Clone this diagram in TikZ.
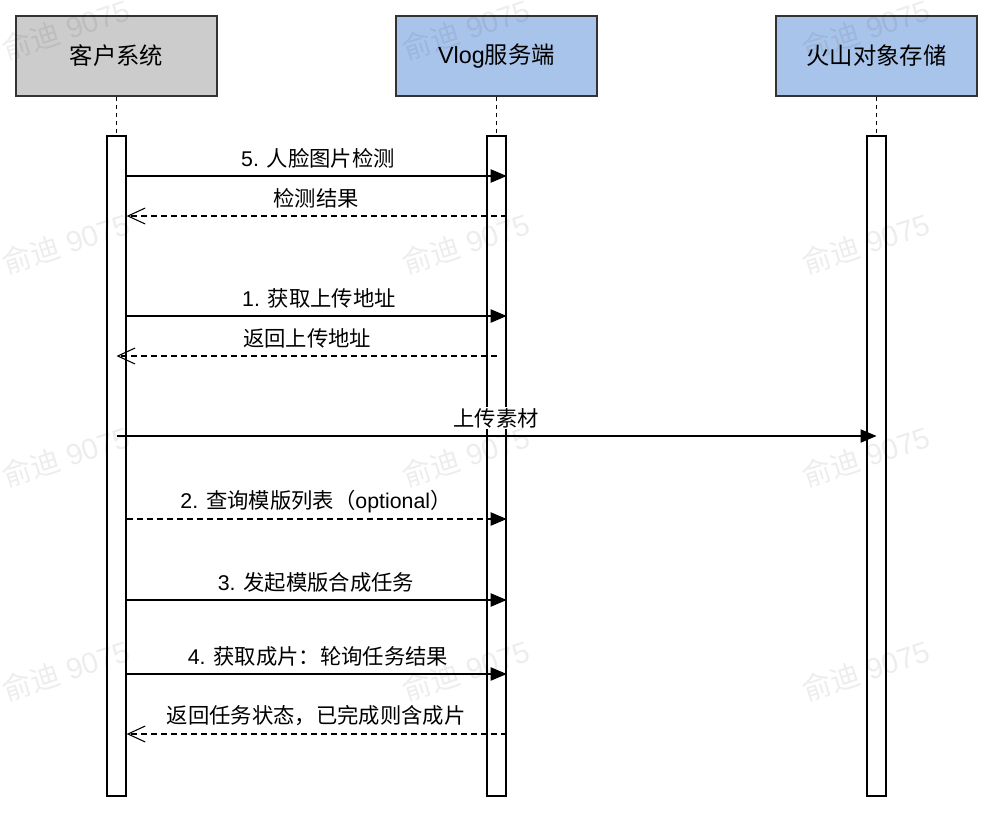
\documentclass[tikz,border=0pt]{standalone}
\usepackage{fontspec}
\setmainfont{Liberation Sans}
\newfontfamily\cjk{Noto Sans CJK SC}
\usetikzlibrary{arrows.meta,calc}
\definecolor{hdgray}{HTML}{CCCCCC}
\definecolor{hdblue}{HTML}{A9C4EB}
\definecolor{edge}{HTML}{333333}
\begin{document}
\begin{tikzpicture}[x=0.75pt,y=-0.75pt,
  head/.style={draw=edge, line width=1.1pt, minimum width=150.75pt, minimum height=60pt, inner sep=0pt, font=\fontsize{17.5}{20}\selectfont},
  actbar/.style={draw=black, fill=white, line width=1pt, minimum width=14.25pt, minimum height=495pt, inner sep=0pt},
  life/.style={draw=black, line width=1.2pt, dash pattern=on 3.5pt off 2.5pt},
  msg/.style={draw=black, line width=0.8pt, -{Triangle[length=12pt,width=10pt]}},
  dmsg/.style={msg, dash pattern=on 4.5pt off 3pt},
  ret/.style={draw=black, line width=0.8pt, dash pattern=on 4.5pt off 3pt, -{Straight Barb[length=13pt,width=12pt,line width=0.8pt]}},
  lbl/.style={fill=white, inner sep=1pt, font=\fontsize{16}{19}\selectfont},
  wmk/.style={text=black, text opacity=0.07, rotate=18, font=\fontsize{22}{24}\selectfont}]
\useasboundingbox (0,0) rectangle (994,814);

% headers
\node[head, fill=hdgray] (hA) at (116.5,56) {\cjk 客户系统};
\node[head, fill=hdblue] (hB) at (496.5,56) {Vlog{\cjk 服务端}};
\node[head, fill=hdblue] (hC) at (876.5,56) {\cjk 火山对象存储};

% activation bars
\node[actbar] (bA) at (116.5,466) {};
\node[actbar] (bB) at (496.5,466) {};
\node[actbar] (bC) at (876.5,466) {};

% lifelines
\draw[life] (hA.south) -- (bA.north);
\draw[life] (hB.south) -- (bB.north);
\draw[life] (hC.south) -- (bC.north);

% message rows
\coordinate (y1) at (0,176);
\coordinate (y2) at (0,216);
\coordinate (y3) at (0,316);
\coordinate (y4) at (0,356);
\coordinate (y5) at (0,436);
\coordinate (y6) at (0,519);
\coordinate (y7) at (0,600);
\coordinate (y8) at (0,674);
\coordinate (y9) at (0,734);

\draw[msg] (bA.east |- y1) -- (bB.east |- y1);
\node[lbl] (l1) at (318,158) {5. {\cjk 人脸图片检测}};

\draw[ret] (bB.east |- y2) -- (bA.east |- y2);
\node[lbl] (l2) at (316,198) {\cjk 检测结果};

\draw[msg] (bA.east |- y3) -- (bB.east |- y3);
\node[lbl] (l3) at (319,298) {1. {\cjk 获取上传地址}};

\draw[ret] (bB.center |- y4) -- (bA.center |- y4);
\node[lbl] (l4) at (307,338) {\cjk 返回上传地址};

\draw[msg] (bA.center |- y5) -- (bC.center |- y5);
\node[lbl] (l5) at (496,418) {\cjk 上传素材};

\draw[dmsg] (bA.east |- y6) -- (bB.east |- y6);
\node[lbl] (l6) at (316,502) {2. {\cjk 查询模版列表（}optional{\cjk ）}};

\draw[msg] (bA.east |- y7) -- (bB.east |- y7);
\node[lbl] (l7) at (316,582) {3. {\cjk 发起模版合成任务}};

\draw[msg] (bA.east |- y8) -- (bB.east |- y8);
\node[lbl] (l8) at (318,656) {4. {\cjk 获取成片：轮询任务结果}};

\draw[ret] (bB.east |- y9) -- (bA.east |- y9);
\node[lbl] (l9) at (316,716) {\cjk 返回任务状态，已完成则含成片};

% watermarks (on top, faint)
\foreach \wx in {66,466,866}{
  \foreach \wy in {29,243,456,670}{
    \node[wmk] at (\wx,\wy) {{\cjk 俞迪} 9075};
  }
}
\end{tikzpicture}
\end{document}
